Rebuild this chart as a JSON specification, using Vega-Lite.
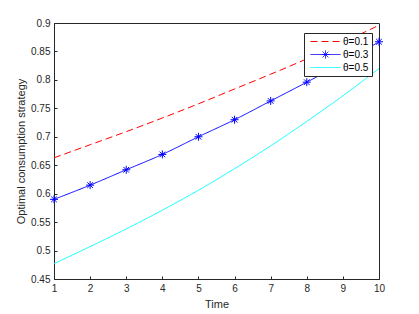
{
  "$schema": "https://vega.github.io/schema/vega-lite/v6.json",
  "width": 325,
  "height": 256,
  "autosize": {"type": "none"},
  "padding": {"left": 54, "top": 23, "right": 40, "bottom": 35},
  "background": "white",
  "data": {
    "values": [
      {"t": 1, "series": "θ=0.1", "v": 0.663},
      {"t": 2, "series": "θ=0.1", "v": 0.686},
      {"t": 3, "series": "θ=0.1", "v": 0.709},
      {"t": 4, "series": "θ=0.1", "v": 0.733},
      {"t": 5, "series": "θ=0.1", "v": 0.758},
      {"t": 6, "series": "θ=0.1", "v": 0.784},
      {"t": 7, "series": "θ=0.1", "v": 0.810},
      {"t": 8, "series": "θ=0.1", "v": 0.837},
      {"t": 9, "series": "θ=0.1", "v": 0.866},
      {"t": 10, "series": "θ=0.1", "v": 0.896},
      {"t": 1, "series": "θ=0.3", "v": 0.590},
      {"t": 2, "series": "θ=0.3", "v": 0.615},
      {"t": 3, "series": "θ=0.3", "v": 0.642},
      {"t": 4, "series": "θ=0.3", "v": 0.669},
      {"t": 5, "series": "θ=0.3", "v": 0.700},
      {"t": 6, "series": "θ=0.3", "v": 0.730},
      {"t": 7, "series": "θ=0.3", "v": 0.763},
      {"t": 8, "series": "θ=0.3", "v": 0.796},
      {"t": 9, "series": "θ=0.3", "v": 0.830},
      {"t": 10, "series": "θ=0.3", "v": 0.867},
      {"t": 1, "series": "θ=0.5", "v": 0.477},
      {"t": 2, "series": "θ=0.5", "v": 0.507},
      {"t": 3, "series": "θ=0.5", "v": 0.538},
      {"t": 4, "series": "θ=0.5", "v": 0.571},
      {"t": 5, "series": "θ=0.5", "v": 0.606},
      {"t": 6, "series": "θ=0.5", "v": 0.644},
      {"t": 7, "series": "θ=0.5", "v": 0.684},
      {"t": 8, "series": "θ=0.5", "v": 0.727},
      {"t": 9, "series": "θ=0.5", "v": 0.772},
      {"t": 10, "series": "θ=0.5", "v": 0.820}
    ]
  },
  "layer": [
    {
      "mark": {"type": "line", "strokeWidth": 1, "interpolate": "monotone"},
      "encoding": {
        "x": {"field": "t", "type": "quantitative", "scale": {"domain": [1, 10], "nice": false, "zero": false},
              "axis": {"orient": "bottom", "title": "Time", "values": [1,2,3,4,5,6,7,8,9,10], "format": "d", "titlePadding": 5}},
        "y": {"field": "v", "type": "quantitative", "scale": {"domain": [0.45, 0.9], "nice": false, "zero": false},
              "axis": {"orient": "left", "title": "Optimal consumption strategy", "values": [0.45,0.5,0.55,0.6,0.65,0.7,0.75,0.8,0.85,0.9], "format": "~g", "titlePadding": 4}},
        "color": {"field": "series", "type": "nominal",
                  "scale": {"domain": ["θ=0.1", "θ=0.3", "θ=0.5"], "range": ["#FF0000", "#0000FF", "#00FFFF"]},
                  "legend": {"title": null, "orient": "none", "legendX": 250, "legendY": 10,
                             "padding": 3, "strokeColor": "#262626", "fillColor": "white", "columnPadding": 0,
                             "symbolSize": 100, "symbolStrokeWidth": 1, "symbolOffset": 13, "labelOffset": 12,
                             "labelFontSize": 10, "labelColor": "#000000", "rowPadding": 1,
                             "encode": {"symbols": {"update": {
                               "shape": {"signal": "datum.value === 'θ=0.3' ? 'M-3,0L3,0M0,-0.8L0,0.8M-0.8,0L0.8,0M-0.57,-0.57L0.57,0.57M-0.57,0.57L0.57,-0.57' : 'M-3,0L3,0'"},
                               "fill": {"value": "transparent"}}}}}},
        "strokeDash": {"field": "series", "type": "nominal",
                  "scale": {"domain": ["θ=0.1", "θ=0.3", "θ=0.5"], "range": [[7, 4], [1, 0], [1, 0]]},
                  "legend": {"title": null, "orient": "none", "legendX": 250, "legendY": 10,
                             "padding": 3, "strokeColor": "#262626", "fillColor": "white", "columnPadding": 0,
                             "symbolSize": 100, "symbolStrokeWidth": 1, "symbolOffset": 13, "labelOffset": 12,
                             "labelFontSize": 10, "labelColor": "#000000", "rowPadding": 1,
                             "encode": {"symbols": {"update": {
                               "shape": {"signal": "datum.value === 'θ=0.3' ? 'M-3,0L3,0M0,-0.8L0,0.8M-0.8,0L0.8,0M-0.57,-0.57L0.57,0.57M-0.57,0.57L0.57,-0.57' : 'M-3,0L3,0'"},
                               "fill": {"value": "transparent"}}}}}}
      }
    },
    {
      "transform": [{"filter": "datum.series === 'θ=0.3'"}],
      "mark": {"type": "point", "shape": "M0,-1L0,1M-1,0L1,0M-0.7,-0.7L0.7,0.7M-0.7,0.7L0.7,-0.7", "filled": false, "stroke": "#0000FF", "strokeWidth": 1, "size": 64, "opacity": 1},
      "encoding": {
        "x": {"field": "t", "type": "quantitative", "axis": null},
        "y": {"field": "v", "type": "quantitative", "axis": null}
      }
    }
  ],
  "resolve": {"axis": {"x": "independent", "y": "independent"}},
  "config": {
    "view": {"stroke": "#262626", "strokeWidth": 1},
    "font": "Liberation Sans",
    "axis": {"domainColor": "#262626", "tickColor": "#262626", "labelColor": "#262626", "titleColor": "#262626",
             "labelFontSize": 10, "titleFontSize": 11, "titleFontWeight": "normal", "grid": false,
             "tickSize": -3, "labelPadding": 7, "domainWidth": 1, "tickWidth": 1, "labelFlush": false}
  }
}
